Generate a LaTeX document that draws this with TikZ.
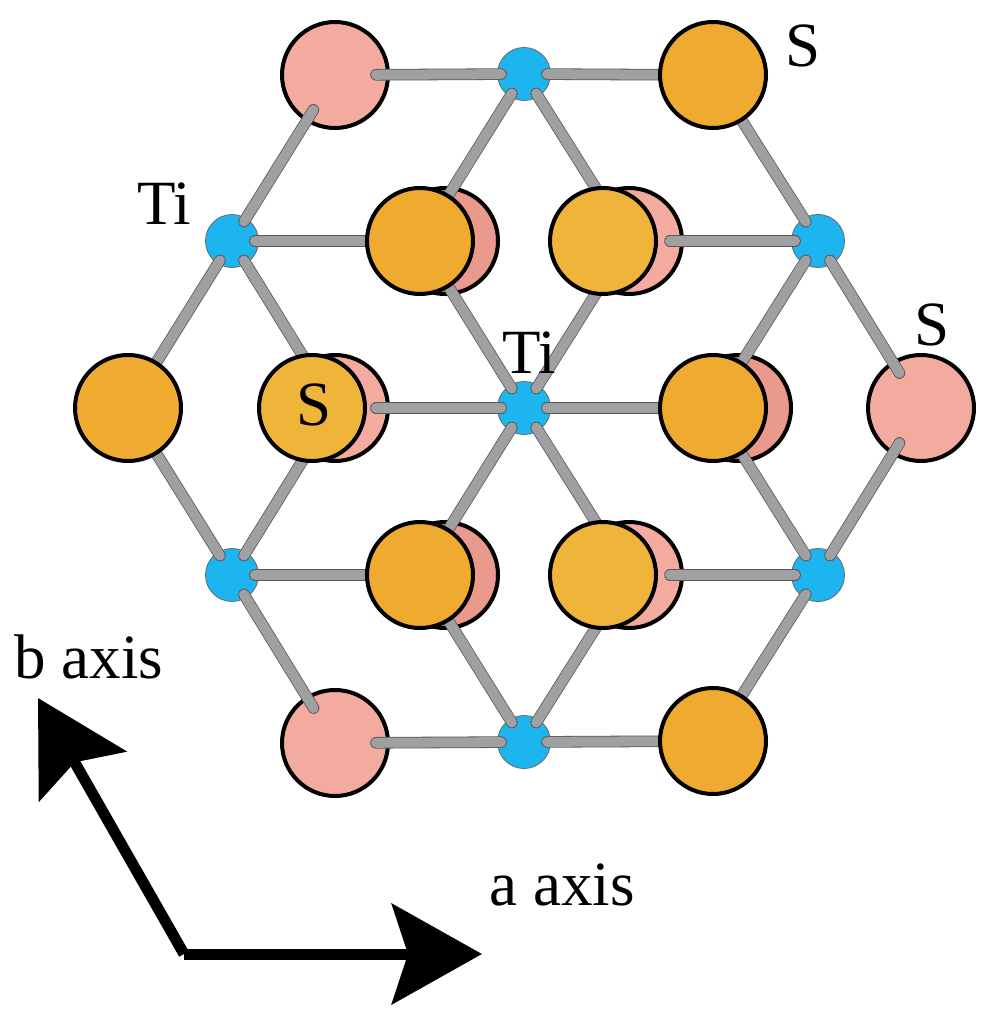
\documentclass[tikz,border=0pt]{standalone}
\usepackage{fontspec}
\setmainfont{Liberation Serif}
\usetikzlibrary{arrows.meta}
\pgfdeclarelayer{atoms}
\pgfdeclarelayer{bonds}
\pgfsetlayers{atoms,bonds,main}
\definecolor{sulfur}{HTML}{EFAA30}
\definecolor{sulfurlight}{HTML}{EFB43A}
\definecolor{lower}{HTML}{F3ABA0}
\definecolor{lowerdark}{HTML}{EA9A8C}
\definecolor{titan}{HTML}{1CB5EF}
\definecolor{bondgray}{HTML}{A0A0A3}

\begin{document}
\begin{tikzpicture}[x=0.5pt, y=-0.5pt,
    big/.style = {draw, circle, line width=2pt, minimum size=53pt, inner sep=0pt},
    orange/.style = {big, fill=sulfur},
    yellow/.style = {big, fill=sulfurlight},
    pink/.style = {big, fill=lower},
    darkpink/.style = {big, fill=lowerdark},
    ti/.style = {draw=black!60, circle, line width=.4pt, fill=titan, minimum size=26.5pt, inner sep=0pt},
    bond/.style = {draw=black!65, double=bondgray, line width=.4pt, double distance=5pt, line cap=round, shorten <=-2pt},
    onpink/.style = {bond, shorten >=-7pt},
    axis/.style = {line width=5.5pt, -{Stealth[length=45pt, width=50pt, inset=8pt]}},
    label/.style = {font=\fontsize{31.5}{31.5}\selectfont, inner sep=0pt}]
  \useasboundingbox (0,0) rectangle (981,1015);

  \begin{pgfonlayer}{atoms}
    \node[pink] (p1) at (335,75) {};
    \node[pink] (p2) at (921,408) {};
    \node[pink] (p3) at (335,743) {};
    \node[darkpink] (p4) at (445,241) {};
    \node[pink] (p5) at (629,241) {};
    \node[pink] (p6) at (335,408) {};
    \node[darkpink] (p7) at (738,408) {};
    \node[darkpink] (p8) at (445,575) {};
    \node[pink] (p9) at (629,575) {};

    \node[ti] (t1) at (524,74) {};
    \node[ti] (t2) at (232,241) {};
    \node[ti] (t3) at (818,241) {};
    \node[ti] (t4) at (524,408) {};
    \node[ti] (t5) at (232,575) {};
    \node[ti] (t6) at (818,575) {};
    \node[ti] (t7) at (524,742) {};
  \end{pgfonlayer}

  \node[orange] (s1) at (713,75) {};
  \node[orange] (s2) at (128,408) {};
  \node[orange] (s3) at (713,741) {};
  \node[orange] (s4) at (420,241) {};
  \node[yellow] (s5) at (603,241) {};
  \node[yellow] (s6) at (312,408) {};
  \node[orange] (s7) at (713,408) {};
  \node[orange] (s8) at (420,575) {};
  \node[yellow] (s9) at (603,575) {};

  \begin{pgfonlayer}{bonds}
    \draw[onpink] (t1) -- (p1);
    \draw[bond] (t1) -- (s1);
    \draw[bond] (t1) -- (s4);
    \draw[bond] (t1) -- (p5);
    \draw[onpink] (t2) -- (p1);
    \draw[bond] (t2) -- (s2);
    \draw[bond] (t2) -- (s4);
    \draw[bond] (t2) -- (p6);
    \draw[bond] (t3) -- (s1);
    \draw[onpink] (t3) -- (p5);
    \draw[onpink] (t3) -- (p2);
    \draw[bond] (t3) -- (s7);
    \draw[bond] (t4) -- (s4);
    \draw[bond] (t4) -- (p5);
    \draw[onpink] (t4) -- (p6);
    \draw[bond] (t4) -- (s7);
    \draw[bond] (t4) -- (s8);
    \draw[bond] (t4) -- (p9);
    \draw[bond] (t5) -- (s2);
    \draw[bond] (t5) -- (p6);
    \draw[bond] (t5) -- (s8);
    \draw[onpink] (t5) -- (p3);
    \draw[bond] (t6) -- (s7);
    \draw[onpink] (t6) -- (p9);
    \draw[onpink] (t6) -- (p2);
    \draw[bond] (t6) -- (s3);
    \draw[onpink] (t7) -- (p3);
    \draw[bond] (t7) -- (s3);
    \draw[bond] (t7) -- (s8);
    \draw[bond] (t7) -- (p9);
  \end{pgfonlayer}

  \node[label] (l1) at (803,46) {S};
  \node[label] (l2) at (932,325) {S};
  \node[label] (l3) at (314,405) {S};
  \node[label] (l4) at (164,204) {Ti};
  \node[label] (l5) at (529,353) {Ti};
  \node[label] (l6) at (89,657) {b axis};
  \node[label] (l7) at (562,885) {a axis};

  \coordinate (o) at (184,954);
  \coordinate (a) at (482,954);
  \coordinate (b) at (38,698);
  \draw[axis] (o) -- (a);
  \draw[axis] (o) -- (b);
\end{tikzpicture}
\end{document}
